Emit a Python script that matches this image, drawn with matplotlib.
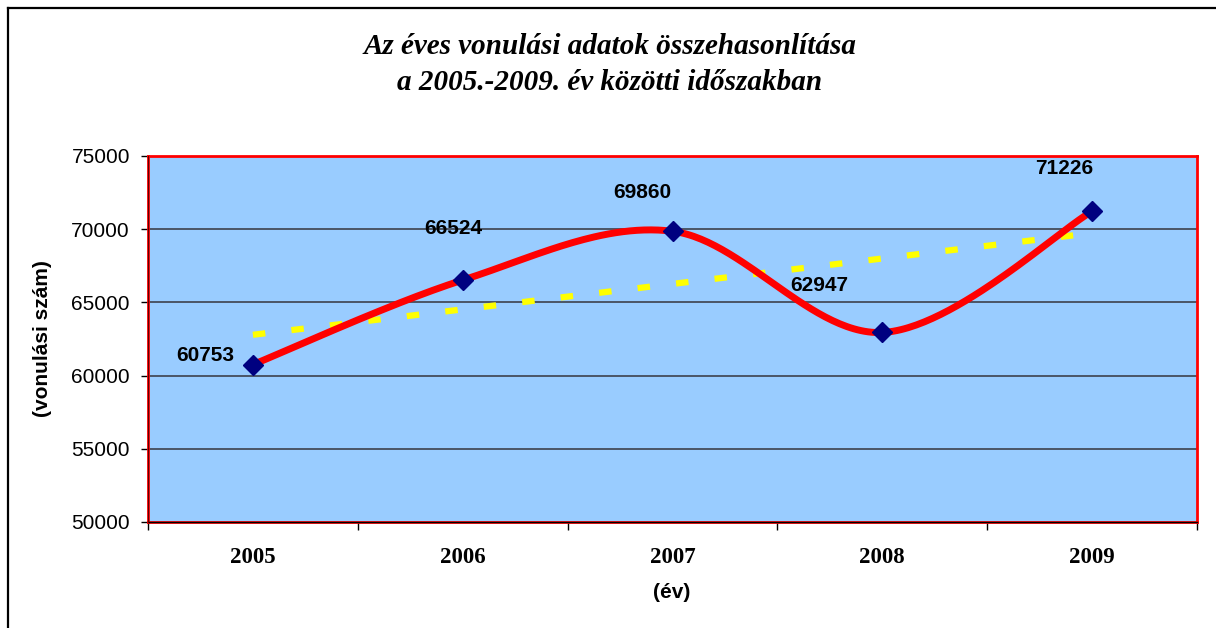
import numpy as np
import matplotlib
matplotlib.use("Agg")
import matplotlib.pyplot as plt
from matplotlib.lines import Line2D

# ---- data ----
years = ["2005", "2006", "2007", "2008", "2009"]
values = [60753, 66524, 69860, 62947, 71226]
y_ticks = [50000, 55000, 60000, 65000, 70000, 75000]
title_lines = ["Az éves vonulási adatok összehasonlítása",
               "a 2005.-2009. év közötti időszakban"]
y_label = "(vonulási szám)"
x_label = "(év)"

# label offsets in pixels (style)
label_offsets = [(-48, 9), (-9, 52), (-30, 39), (-63, 47), (-28, 43)]

SANS = "Liberation Sans"
SERIF = "Liberation Serif"

fig = plt.figure(figsize=(12.16, 6.28), dpi=100)
ax = fig.add_axes([148/1216, 1-522/628, 1049/1216, 366/628])
ax.set_facecolor("#99CCFF")

x = np.arange(len(values), dtype=float)
y = np.array(values, dtype=float)

# Catmull-Rom (Excel-like) smoothing via cubic Bezier segments
def smooth(xs, ys, n=60):
    pts = np.column_stack([xs, ys])
    out = []
    for i in range(len(pts)-1):
        p0 = pts[i-1] if i > 0 else pts[i]
        p1 = pts[i]
        p2 = pts[i+1]
        p3 = pts[i+2] if i+2 < len(pts) else pts[i+1]
        c1 = p1 + (p2 - p0) / 6.0
        c2 = p2 - (p3 - p1) / 6.0
        t = np.linspace(0, 1, n)[:, None]
        seg = ((1-t)**3)*p1 + 3*((1-t)**2)*t*c1 + 3*(1-t)*(t**2)*c2 + (t**3)*p2
        out.append(seg if i == 0 else seg[1:])
    s = np.vstack(out)
    return s[:, 0], s[:, 1]

# grid
for v in y_ticks[1:-1]:
    ax.axhline(v, color="#4a5566", lw=1.4, zorder=1)

# linear trend
coef = np.polyfit(x, y, 1)
tx = np.array([x[0], x[-1]])
ax.plot(tx, np.polyval(coef, tx), color="#FFFF00", lw=4.5,
        dashes=(2.0, 4.2), dash_capstyle="butt", zorder=2)

sx, sy = smooth(x, y)
ax.plot(sx, sy, color="#FF0000", lw=5, solid_capstyle="round", zorder=3)
ax.plot(x, y, linestyle="none", marker="D", ms=10.5, color="#000080",
        markeredgecolor="#000080", zorder=4)

for xi, yi, (dx, dy) in zip(x, y, label_offsets):
    ax.annotate(f"{int(yi)}", (xi, yi), xytext=(dx, dy), textcoords="offset pixels",
                ha="center", va="center", fontsize=15, fontweight="bold",
                family=SANS, color="black", zorder=5)

ax.set_xlim(-0.5, len(values)-0.5)
ax.set_ylim(y_ticks[0], y_ticks[-1])
ax.set_yticks(y_ticks)
ax.set_yticklabels([str(v) for v in y_ticks], fontsize=15, family=SANS)
ax.tick_params(axis="y", length=5, width=1, pad=8, color="black")

ax.set_xticks(np.arange(-0.5, len(values)), minor=False)
ax.set_xticklabels([])
ax.set_xticks(x, minor=True)
ax.set_xticklabels(years, minor=True, fontsize=16.5, fontweight="bold", family=SERIF)
ax.tick_params(axis="x", which="major", length=6, width=1, color="black")
ax.tick_params(axis="x", which="minor", length=0, pad=18)

for s in ax.spines.values():
    s.set_color("#FF0000")
    s.set_linewidth(2)
ax.axhline(y_ticks[0], color="black", lw=1, zorder=6, clip_on=False)
ax.axvline(-0.5, color="#600000", lw=0.8, zorder=6, clip_on=False)

fig.text(42/1216, 1-339/628, y_label, rotation=90, ha="center", va="center",
         fontsize=15, fontweight="bold", family=SANS)
fig.text(672/1216, 1-592/628, x_label, ha="center", va="center",
         fontsize=15, fontweight="bold", family=SANS)

fig.text(610/1216, 1-47/628, title_lines[0], ha="center", va="center",
         fontsize=21, fontweight="bold", style="italic", family=SERIF)
fig.text(610/1216, 1-82/628, title_lines[1], ha="center", va="center",
         fontsize=21, fontweight="bold", style="italic", family=SERIF)

# outer frame lines
fig.add_artist(Line2D([8/1216, 1], [1-8/628, 1-8/628], color="black", lw=1.6,
                      transform=fig.transFigure))
fig.add_artist(Line2D([8/1216, 8/1216], [0, 1-8/628], color="black", lw=1.6,
                      transform=fig.transFigure))

fig.savefig("out.png", dpi=100)
